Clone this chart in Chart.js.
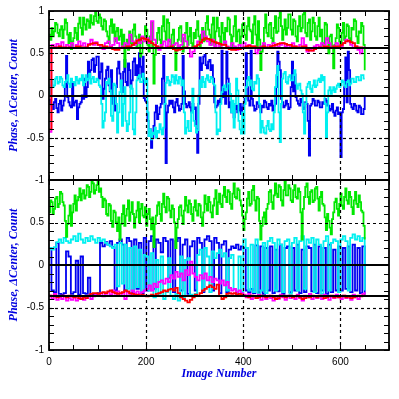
<!DOCTYPE html>
<html><head><meta charset="utf-8">
<script src="https://cdn.jsdelivr.net/npm/chart.js@4.4.1/dist/chart.umd.min.js"></script>
<style>html,body{margin:0;padding:0;background:#fff;width:399px;height:399px;overflow:hidden}
canvas{position:absolute;left:0;top:0}</style></head>
<body>
<canvas id="c1" width="399" height="399"></canvas>
<canvas id="c2" width="399" height="399"></canvas>
<script>
const imageNumbers = [0,5,10,15,20,25,30,35,40,45,50,55,60,65,70,75,80,85,90,95,100,105,110,115,120,125,130,135,140,145,150,155,160,165,170,175,180,185,190,195,200,205,210,215,220,225,230,235,240,245,250,255,260,265,270,275,280,285,290,295,300,305,310,315,320,325,330,335,340,345,350,355,360,365,370,375,380,385,390,395,400,405,410,415,420,425,430,435,440,445,450,455,460,465,470,475,480,485,490,495,500,505,510,515,520,525,530,535,540,545,550,555,560,565,570,575,580,585,590,595,600,605,610,615,620,625,630,635,640,645,650];

const imageNumbersFine = [0,2.5,5,7.5,10,12.5,15,17.5,20,22.5,25,27.5,30,32.5,35,37.5,40,42.5,45,47.5,
 50,52.5,55,57.5,60,62.5,65,67.5,70,72.5,75,77.5,80,82.5,85,87.5,90,92.5,95,97.5,
 100,102.5,105,107.5,110,112.5,115,117.5,120,122.5,125,127.5,130,132.5,135,137.5,140,142.5,145,147.5,
 150,152.5,155,157.5,160,162.5,165,167.5,170,172.5,175,177.5,180,182.5,185,187.5,190,192.5,195,197.5,
 200,202.5,205,207.5,210,212.5,215,217.5,220,222.5,225,227.5,230,232.5,235,237.5,240,242.5,245,247.5,
 250,252.5,255,257.5,260,262.5,265,267.5,270,272.5,275,277.5,280,282.5,285,287.5,290,292.5,295,297.5,
 300,302.5,305,307.5,310,312.5,315,317.5,320,322.5,325,327.5,330,332.5,335,337.5,340,342.5,345,347.5,
 350,352.5,355,357.5,360,362.5,365,367.5,370,372.5,375,377.5,380,382.5,385,387.5,390,392.5,395,397.5,
 400,402.5,405,407.5,410,412.5,415,417.5,420,422.5,425,427.5,430,432.5,435,437.5,440,442.5,445,447.5,
 450,452.5,455,457.5,460,462.5,465,467.5,470,472.5,475,477.5,480,482.5,485,487.5,490,492.5,495,497.5,
 500,502.5,505,507.5,510,512.5,515,517.5,520,522.5,525,527.5,530,532.5,535,537.5,540,542.5,545,547.5,
 550,552.5,555,557.5,560,562.5,565,567.5,570,572.5,575,577.5,580,582.5,585,587.5,590,592.5,595,597.5,
 600,602.5,605,607.5,610,612.5,615,617.5,620,622.5,625,627.5,630,632.5,635,637.5,640,642.5,645,647.5,650];

const topGreen = [0.72,0.66,0.80,0.70,0.76,0.86,0.84,0.74,0.70,0.78,0.82,0.68,0.78,0.90,0.86,0.72,0.62,0.74,0.55,0.64,
 0.68,0.80,0.74,0.66,0.85,0.92,0.80,0.72,0.92,0.84,0.78,0.90,0.88,0.80,0.95,0.86,0.84,0.94,1.00,0.88,
 0.86,0.96,0.92,0.82,0.78,0.90,0.88,0.76,0.70,0.62,0.82,0.90,0.74,0.84,0.64,0.76,0.80,0.66,0.70,0.78,
 0.58,0.72,0.34,0.60,0.66,0.54,0.76,0.62,0.60,0.78,0.84,0.70,0.56,0.66,0.72,0.46,0.50,0.64,0.68,0.82,
 0.78,0.60,0.52,0.70,0.86,0.58,0.14,0.48,0.62,0.74,0.80,0.66,0.56,0.82,0.94,0.76,0.66,0.90,0.86,0.64,
 0.60,0.72,0.78,0.56,0.30,0.54,0.66,0.80,0.82,0.64,0.52,0.68,0.74,0.86,0.60,0.70,0.80,0.62,0.56,0.74,
 0.68,0.78,0.88,0.70,0.58,0.72,0.80,0.64,0.66,0.86,0.94,0.78,0.72,0.60,0.84,0.92,0.60,0.76,0.92,0.80,
 0.70,0.58,0.86,0.74,0.62,0.80,0.76,0.92,0.90,0.72,0.58,0.70,0.82,0.94,0.64,0.76,0.78,0.62,0.70,0.84,
 0.86,0.72,0.66,0.82,0.92,0.78,0.76,0.62,0.84,0.94,0.72,0.56,0.88,0.66,0.30,0.52,0.58,0.80,0.96,0.74,
 0.70,0.84,0.86,0.68,0.62,0.80,0.94,0.74,0.76,0.92,0.98,0.82,0.66,0.78,0.90,0.72,0.80,0.96,0.96,0.78,
 0.72,0.90,0.88,0.70,0.64,0.82,0.94,0.76,0.80,0.96,0.98,0.74,0.70,0.86,0.90,0.66,0.76,0.92,0.86,0.70,
 0.66,0.82,0.92,0.70,0.78,0.60,0.62,0.86,0.84,0.66,0.50,0.70,0.72,0.58,0.32,0.60,0.68,0.84,0.80,0.64,
 0.58,0.74,0.86,0.66,0.70,0.84,0.82,0.68,0.64,0.80,0.78,0.90,0.88,0.70,0.62,0.76,0.74,0.86,0.82,0.60,0.30];

const topMagenta = [-0.43,0.60,0.57,0.61,0.58,0.63,0.56,0.60,0.58,0.62,
 0.56,0.60,0.64,0.59,0.62,0.57,0.61,0.66,0.60,0.63,
 0.60,0.57,0.55,0.62,0.64,0.58,0.60,0.68,0.62,0.56,
 0.58,0.62,0.60,0.72,0.64,0.60,0.66,0.62,0.70,0.64,
 0.68,0.62,0.88,0.66,0.58,0.54,0.60,0.64,0.58,0.66,
 0.56,0.60,0.62,0.58,0.60,0.72,0.64,0.56,0.46,0.52,
 0.58,0.64,0.62,0.76,0.70,0.64,0.60,0.66,0.58,0.62,
 0.56,0.60,0.64,0.58,0.56,0.62,0.58,0.54,0.60,0.56,
 0.62,0.58,0.60,0.56,0.58,0.50,0.54,0.58,0.62,0.56,
 0.60,0.58,0.62,0.56,0.58,0.60,0.62,0.58,0.60,0.58,
 0.62,0.58,0.56,0.60,0.68,0.60,0.52,0.54,0.53,0.58,
 0.60,0.58,0.62,0.60,0.68,0.62,0.56,0.58,0.62,0.58,
 0.58,0.62,0.66,0.64,0.60,0.56,0.58,0.54,0.50,0.56,0.58];

const topRed = [-0.40,0.57,0.57,0.57,0.58,0.57,0.57,0.56,0.57,0.56,
 0.56,0.58,0.58,0.57,0.57,0.57,0.60,0.61,0.62,0.62,
 0.60,0.60,0.58,0.58,0.57,0.57,0.55,0.54,0.54,0.56,
 0.57,0.57,0.58,0.58,0.60,0.62,0.65,0.66,0.68,0.67,
 0.66,0.64,0.62,0.60,0.58,0.57,0.57,0.56,0.56,0.57,
 0.58,0.55,0.53,0.54,0.55,0.56,0.57,0.56,0.56,0.57,
 0.58,0.60,0.63,0.66,0.68,0.67,0.66,0.64,0.63,0.62,
 0.61,0.60,0.60,0.57,0.55,0.54,0.54,0.55,0.55,0.56,
 0.57,0.58,0.59,0.58,0.58,0.57,0.56,0.57,0.58,0.57,
 0.57,0.58,0.59,0.60,0.61,0.62,0.62,0.61,0.60,0.60,
 0.58,0.58,0.57,0.57,0.58,0.58,0.54,0.53,0.53,0.55,
 0.56,0.57,0.57,0.58,0.58,0.57,0.57,0.58,0.58,0.58,
 0.60,0.62,0.64,0.65,0.63,0.62,0.58,0.57,0.57,0.56,0.56];

const topBlue = [-0.05,-0.10,-0.12,-0.16,-0.08,-0.04,-0.15,-0.20,-0.10,-0.06,-0.18,-0.12,-0.06,0.10,0.47,-0.02,-0.08,-0.12,-0.14,0.14,
 -0.12,-0.08,-0.06,-0.28,-0.14,-0.10,-0.08,0.00,-0.04,0.20,-0.02,0.10,0.40,0.22,0.30,0.42,0.44,0.28,0.36,0.46,
 0.46,0.20,0.28,0.38,-0.04,0.08,0.20,0.30,0.34,0.12,0.05,0.30,-0.10,-0.02,-0.18,0.10,0.32,0.40,0.26,0.10,
 0.04,0.28,0.42,0.16,0.12,0.38,0.30,0.10,0.18,0.40,0.44,0.24,0.36,0.20,0.50,0.34,0.22,0.46,-0.03,-0.06,
 -0.08,-0.30,-0.48,-0.40,-0.62,-0.50,-0.36,-0.20,-0.12,-0.28,-0.22,-0.14,-0.10,0.20,0.47,-0.10,-0.80,-0.20,-0.12,-0.06,
 -0.10,-0.06,-0.14,-0.20,-0.08,-0.04,-0.12,-0.18,-0.16,-0.10,0.47,0.05,-0.10,-0.14,-0.12,-0.08,-0.14,-0.20,-0.10,-0.16,
 -0.14,-0.40,-0.68,-0.10,0.45,0.30,0.38,0.46,0.48,0.36,0.32,0.40,0.42,0.30,0.36,0.20,-0.08,-0.14,-0.12,-0.06,
 -0.10,-0.04,0.53,-0.02,0.10,-0.10,0.52,0.20,-0.14,-0.08,-0.20,-0.12,-0.26,-0.16,-0.12,-0.20,-0.18,-0.10,-0.22,-0.14,
 -0.10,-0.04,0.50,0.10,-0.06,-0.12,0.53,-0.04,-0.12,-0.18,-0.16,-0.08,-0.10,-0.14,-0.20,-0.12,-0.14,-0.06,-0.08,-0.14,
 -0.16,-0.10,-0.12,-0.06,-0.18,-0.12,-0.10,0.10,0.52,0.40,0.30,-0.04,-0.08,-0.14,-0.12,-0.06,-0.10,-0.16,-0.14,0.10,
 0.40,0.05,0.25,-0.02,-0.06,-0.10,-0.12,-0.04,-0.08,-0.16,-0.14,-0.08,-0.10,-0.30,-0.71,-0.12,-0.10,-0.04,-0.06,-0.12,
 -0.12,-0.06,-0.08,-0.14,-0.14,-0.08,-0.10,-0.04,-0.06,-0.12,-0.12,-0.18,-0.16,-0.10,-0.20,-0.24,-0.18,-0.14,-0.22,-0.20,
 -0.73,-0.20,-0.16,0.10,0.45,-0.08,0.52,0.30,-0.10,-0.14,-0.16,-0.10,-0.12,-0.18,-0.20,-0.12,-0.14,-0.22,-0.22,-0.16,0.00];

const topCyan = [0.02,0.12,0.18,0.10,0.12,0.20,0.22,0.14,0.16,0.22,0.20,0.12,0.10,0.16,0.18,0.24,0.14,0.10,0.20,0.16,
 0.16,0.12,0.22,0.18,0.14,0.20,0.18,0.24,0.12,0.16,0.24,0.18,0.20,0.26,0.14,0.20,0.22,0.16,0.16,0.20,
 0.18,0.12,0.10,-0.10,-0.38,-0.30,-0.20,0.16,0.14,0.20,0.06,-0.24,-0.30,0.14,0.12,-0.10,-0.44,-0.20,0.04,0.18,
 -0.36,-0.10,0.10,-0.30,-0.42,-0.34,-0.20,0.12,0.08,-0.40,-0.46,-0.20,0.18,0.22,0.24,0.16,0.16,0.26,0.20,0.14,
 0.20,-0.20,-0.48,-0.40,-0.52,-0.44,-0.46,-0.38,-0.50,-0.42,-0.44,-0.34,-0.40,-0.46,-0.38,-0.10,0.15,0.22,0.18,0.12,
 0.16,0.24,0.22,0.14,0.24,0.18,0.14,0.22,0.20,0.12,0.18,-0.20,-0.45,-0.38,-0.30,-0.42,-0.42,-0.20,0.08,-0.30,
 -0.36,-0.44,-0.41,0.00,0.18,0.10,0.22,0.16,0.10,0.20,0.24,0.18,0.16,0.22,0.20,0.14,0.12,-0.20,-0.46,-0.40,
 -0.42,-0.10,0.04,0.10,0.12,0.06,0.08,0.14,0.14,0.02,-0.20,-0.06,-0.38,-0.10,0.20,0.06,-0.30,-0.40,-0.45,-0.20,
 -0.45,-0.10,0.10,0.18,0.22,0.12,0.18,0.08,0.06,0.16,0.14,0.24,0.20,-0.10,-0.44,-0.30,-0.38,-0.44,-0.45,-0.36,
 -0.30,-0.40,-0.42,-0.34,-0.40,-0.20,0.10,0.24,0.35,-0.20,-0.55,-0.10,0.20,0.26,0.28,0.16,0.14,0.22,0.24,0.18,
 0.18,0.24,0.30,0.14,0.08,0.12,0.14,0.06,0.02,-0.20,-0.45,-0.10,0.10,0.14,0.16,0.08,0.04,0.12,0.18,0.10,
 0.12,0.18,0.20,0.16,0.24,0.18,0.22,-0.10,-0.50,-0.20,0.06,0.10,0.02,0.06,0.10,0.04,0.08,0.12,0.14,0.10,
 0.12,0.18,0.16,0.12,0.10,0.16,0.18,0.12,0.14,0.20,0.20,0.16,0.16,0.22,0.22,0.18,0.18,0.24,0.24,0.20,0.20];

const botGreen = [0.62,0.76,0.74,0.60,0.66,0.78,0.80,0.68,0.72,0.86,0.84,0.74,0.70,0.52,0.33,0.48,0.58,0.70,0.46,0.62,
 0.72,0.82,0.64,0.76,0.80,0.90,0.76,0.84,0.88,0.78,0.82,0.94,0.92,0.80,0.86,0.98,0.96,0.84,0.88,0.94,
 0.98,0.86,0.90,0.80,0.68,0.78,0.76,0.60,0.58,0.72,0.70,0.52,0.45,0.64,0.62,0.50,0.40,0.56,0.30,0.48,
 0.60,0.70,0.46,0.58,0.66,0.76,0.52,0.62,0.74,0.60,0.44,0.56,0.64,0.74,0.50,0.66,0.72,0.58,0.56,0.68,
 0.46,0.60,0.66,0.54,0.42,0.56,0.21,0.48,0.58,0.70,0.74,0.60,0.52,0.72,0.84,0.68,0.62,0.80,0.78,0.64,
 0.56,0.70,0.66,0.50,0.20,0.44,0.54,0.68,0.70,0.58,0.48,0.64,0.80,0.70,0.62,0.76,0.72,0.60,0.52,0.68,
 0.76,0.64,0.58,0.72,0.70,0.56,0.46,0.62,0.82,0.72,0.64,0.80,0.74,0.62,0.56,0.70,0.78,0.88,0.60,0.74,
 0.84,0.72,0.68,0.82,0.92,0.80,0.74,0.88,0.86,0.72,0.66,0.84,0.96,0.80,0.78,0.90,0.88,0.76,0.70,0.58,
 0.41,0.54,0.62,0.78,0.86,0.70,0.72,0.88,0.93,0.76,0.64,0.80,0.78,0.52,0.30,0.46,0.56,0.62,0.48,0.66,
 0.72,0.86,0.88,0.74,0.66,0.82,0.96,0.84,0.80,0.94,0.92,0.76,0.70,0.88,0.98,0.82,0.82,0.94,0.90,0.76,
 0.74,0.88,0.94,0.80,0.78,0.90,0.86,0.62,0.30,0.66,0.80,0.92,0.96,0.80,0.72,0.86,0.88,0.74,0.76,0.90,
 0.92,0.78,0.64,0.80,0.86,0.72,0.70,0.56,0.41,0.60,0.52,0.44,0.36,0.54,0.62,0.74,0.78,0.66,0.58,0.72,
 0.84,0.70,0.66,0.80,0.90,0.76,0.72,0.86,0.80,0.68,0.60,0.76,0.86,0.72,0.68,0.82,0.74,0.64,0.62,0.46,0.30];

const botMagenta = [-0.36,-0.40,-0.34,-0.41,-0.38,-0.40,-0.36,-0.42,-0.39,-0.41,
 -0.38,-0.42,-0.40,-0.37,-0.41,-0.39,-0.36,-0.40,-0.37,-0.34,
 -0.36,-0.33,-0.37,-0.34,-0.32,-0.35,-0.30,-0.34,-0.31,-0.36,
 -0.33,-0.40,-0.32,-0.35,-0.30,-0.33,-0.31,-0.34,-0.32,-0.30,
 -0.28,-0.24,-0.30,-0.22,-0.26,-0.20,-0.18,-0.22,-0.16,-0.20,
 -0.12,-0.16,-0.08,-0.14,-0.10,-0.18,-0.06,-0.12,0.04,-0.10,
 -0.14,-0.18,-0.12,-0.16,-0.10,-0.18,-0.14,-0.20,-0.16,-0.18,
 -0.22,-0.18,-0.24,-0.20,-0.27,-0.30,-0.28,-0.32,-0.30,-0.33,
 -0.35,-0.38,-0.34,-0.40,-0.36,-0.39,-0.35,-0.41,-0.37,-0.40,
 -0.36,-0.39,-0.42,-0.37,-0.40,-0.35,-0.38,-0.41,-0.36,-0.39,
 -0.37,-0.40,-0.35,-0.39,-0.42,-0.36,-0.38,-0.34,-0.40,-0.37,
 -0.39,-0.36,-0.40,-0.35,-0.38,-0.41,-0.37,-0.39,-0.35,-0.38,
 -0.40,-0.36,-0.39,-0.37,-0.41,-0.35,-0.38,-0.40,-0.36,-0.34,-0.32];

const botRed = [-0.36,-0.37,-0.36,-0.38,-0.37,-0.36,-0.37,-0.38,-0.36,-0.37,
 -0.38,-0.37,-0.39,-0.40,-0.38,-0.39,-0.36,-0.34,-0.33,-0.33,
 -0.34,-0.33,-0.32,-0.33,-0.31,-0.30,-0.32,-0.33,-0.34,-0.33,
 -0.32,-0.30,-0.31,-0.33,-0.34,-0.35,-0.35,-0.36,-0.35,-0.36,
 -0.37,-0.36,-0.35,-0.36,-0.34,-0.33,-0.32,-0.30,-0.31,-0.29,
 -0.28,-0.30,-0.27,-0.33,-0.38,-0.40,-0.42,-0.44,-0.41,-0.38,
 -0.35,-0.36,-0.33,-0.30,-0.28,-0.26,-0.24,-0.26,-0.28,-0.23,
 -0.36,-0.40,-0.38,-0.34,-0.33,-0.34,-0.33,-0.35,-0.34,-0.35,
 -0.36,-0.37,-0.38,-0.36,-0.37,-0.39,-0.38,-0.36,-0.37,-0.38,
 -0.37,-0.36,-0.38,-0.40,-0.39,-0.37,-0.36,-0.38,-0.37,-0.36,
 -0.38,-0.37,-0.36,-0.38,-0.40,-0.39,-0.37,-0.38,-0.36,-0.37,
 -0.38,-0.36,-0.37,-0.39,-0.38,-0.37,-0.36,-0.38,-0.37,-0.38,
 -0.37,-0.36,-0.38,-0.37,-0.39,-0.38,-0.37,-0.36,-0.37,-0.36,-0.35];

const botBlue = [0.20,-0.30,-0.32,0.26,-0.34,-0.35,-0.33,0.16,0.10,-0.34,
 -0.32,0.05,-0.35,0.10,-0.33,-0.34,-0.15,-0.36,-0.34,-0.35,
 -0.33,0.26,0.22,0.27,0.24,0.28,0.21,-0.30,0.26,0.30,
 0.24,-0.30,0.32,0.28,-0.32,0.30,-0.28,0.26,-0.33,0.32,
 -0.30,0.28,0.34,-0.28,0.30,0.26,0.15,0.32,0.28,-0.15,
 0.30,-0.32,0.28,0.32,-0.30,0.24,0.30,-0.34,0.22,0.28,
 -0.30,0.32,0.26,-0.32,0.30,0.34,0.28,-0.30,0.32,0.26,
 -0.33,0.24,0.28,-0.32,0.18,0.22,0.20,0.24,0.18,0.22,
 0.20,-0.30,-0.32,-0.28,-0.33,0.23,-0.32,0.22,-0.34,0.20,
 -0.30,0.22,-0.33,0.18,-0.31,0.24,-0.34,0.20,0.22,-0.32,
 0.20,-0.30,0.24,-0.33,0.18,-0.32,0.22,0.20,-0.31,0.24,
 -0.33,0.22,-0.30,0.20,-0.34,0.24,-0.32,0.18,-0.30,0.22,
 -0.30,0.20,-0.28,0.22,-0.32,0.24,-0.30,0.20,-0.33,0.22,-0.35];

const botCyan = [0.20,0.18,0.21,0.27,0.30,0.26,0.32,0.28,0.26,0.30,
 0.34,0.28,0.37,0.30,0.26,0.32,0.28,0.34,0.30,0.26,
 0.32,0.28,0.30,0.26,0.24,0.22,0.20,0.24,-0.25,0.26,
 -0.22,0.24,-0.28,0.20,-0.30,0.22,-0.26,0.18,-0.32,0.12,
 0.10,-0.30,0.14,-0.38,0.06,-0.34,0.10,-0.40,-0.32,0.08,
 -0.36,-0.40,-0.34,-0.42,0.10,-0.38,0.06,0.08,-0.35,-0.36,
 -0.34,0.12,0.18,-0.30,0.20,0.10,-0.32,0.16,0.08,0.14,
 0.18,0.10,0.14,-0.30,0.08,0.12,-0.28,-0.34,0.10,-0.32,
 0.30,0.20,-0.30,0.24,-0.32,0.30,-0.34,-0.30,0.26,-0.33,
 0.28,0.32,0.26,-0.30,0.30,0.24,-0.32,0.28,0.30,-0.34,
 0.26,0.32,-0.30,0.28,0.34,-0.28,0.30,0.26,0.32,-0.32,
 0.30,0.24,-0.34,0.28,0.34,-0.30,0.26,0.30,0.28,-0.32,
 0.30,0.34,0.28,-0.30,0.32,0.36,0.30,0.34,0.28,0.32,-0.30];

const meanLevels = [0.565, -0.365];
const xMajorValues = [200, 400, 600];
const xMinorStep = 50;
const yDashedValues = [0.5, -0.5];
const yTickLabels = ['-1', '-0.5', '0', '0.5', '1'];

const C = {green:'#00e800', magenta:'#ff00ff', red:'#ff0000', blue:'#0000f0', cyan:'#00f0f0', axisTitle:'#0000e0'};

function ds(data, color, order) {
  return {data, borderColor: color, borderWidth: 1.8, pointRadius: 0, stepped: true, tension: 0, fill: false, order};
}
function pairs(xs, ys) { return xs.map((x, i) => ({x, y: ys[i]})); }

function makeDecor(panel) {
  return {
    id: 'decor' + panel,
    afterDatasetsDraw(chart) {
      const {ctx, chartArea: a, scales: {x, y}} = chart;
      ctx.save();
      ctx.strokeStyle = '#000';
      const hl = (py, w) => { ctx.lineWidth = w; ctx.beginPath(); ctx.moveTo(a.left, py); ctx.lineTo(a.right, py); ctx.stroke(); };
      const vl = (px, w) => { ctx.lineWidth = w; ctx.beginPath(); ctx.moveTo(px, a.top); ctx.lineTo(px, a.bottom); ctx.stroke(); };
      ctx.setLineDash([3, 3]);
      xMajorValues.forEach(v => vl(Math.round(x.getPixelForValue(v)) + 0.5, 1.2));
      yDashedValues.forEach(v => hl(Math.round(y.getPixelForValue(v)) + 0.5, 1.2));
      ctx.setLineDash([]);
      hl(Math.round(y.getPixelForValue(0)), 1.8);
      hl(Math.round(y.getPixelForValue(meanLevels[panel])), 1.8);
      ctx.lineWidth = 1;
      for (let v = -10; v <= 10; v++) {
        const py = Math.round(y.getPixelForValue(v / 10)) + 0.5;
        ctx.beginPath(); ctx.moveTo(a.left, py); ctx.lineTo(a.left + 5, py);
        ctx.moveTo(a.right, py); ctx.lineTo(a.right - 5, py); ctx.stroke();
      }
      for (let v = 0; v <= 700; v += xMinorStep) {
        const px = Math.round(x.getPixelForValue(v)) + 0.5;
        ctx.beginPath(); ctx.moveTo(px, a.top); ctx.lineTo(px, a.top + 5);
        ctx.moveTo(px, a.bottom); ctx.lineTo(px, a.bottom - 5); ctx.stroke();
      }
      ctx.lineWidth = 1.8;
      ctx.strokeRect(a.left, a.top, a.right - a.left, a.bottom - a.top);
      ctx.fillStyle = C.axisTitle;
      ctx.font = 'italic bold 12px "Liberation Serif"';
      ctx.textAlign = 'center'; ctx.textBaseline = 'middle';
      ctx.save();
      ctx.translate(14, (a.top + a.bottom) / 2);
      ctx.rotate(-Math.PI / 2);
      ctx.fillText('Phase, \u0394Center, Count', 0, 0);
      ctx.restore();
      if (panel === 1) {
        ctx.fillText('Image Number', (a.left + a.right) / 2, 374);
      }
      ctx.restore();
    }
  };
}

function makeChart(id, panel, sets) {
  const isBottom = panel === 1;
  return new Chart(document.getElementById(id), {
    type: 'line',
    data: {labels: imageNumbers, datasets: sets},
    options: {
      responsive: false, animation: false, devicePixelRatio: 1,
      layout: {padding: isBottom ? {left: 0, right: 10, top: 180, bottom: 0} : {left: 0, right: 10, top: 10, bottom: 219}},
      plugins: {legend: {display: false}, tooltip: {enabled: false}},
      scales: {
        x: {type: 'linear', min: 0, max: 700, display: isBottom,
            grid: {display: false, drawTicks: false}, border: {display: false},
            afterFit: s => { s.height = isBottom ? 49 : 0; },
            ticks: {stepSize: 200, includeBounds: false, autoSkip: false, padding: 6, color: '#000',
                    font: {family: '"Liberation Sans"', size: 10},
                    callback: v => (v % 200 === 0 && v <= 600) ? String(v) : ''}},
        y: {type: 'linear', min: -1, max: 1,
            grid: {display: false, drawTicks: false}, border: {display: false},
            afterFit: s => { s.width = 49; },
            ticks: {stepSize: 0.5, autoSkip: false, padding: 5, color: '#000',
                    font: {family: '"Liberation Sans"', size: 10},
                    callback: v => {
                      const idx = Math.round((v + 1) * 2);
                      if (isBottom && idx === 4) return '';
                      return yTickLabels[idx];
                    }}}
      }
    },
    plugins: [makeDecor(panel)]
  });
}

makeChart('c1', 0, [
  ds(topRed, C.red, 1), ds(topMagenta, C.magenta, 2), ds(pairs(imageNumbersFine, topGreen), C.green, 3),
  ds(pairs(imageNumbersFine, topCyan), C.cyan, 4), ds(pairs(imageNumbersFine, topBlue), C.blue, 5)
]);
makeChart('c2', 1, [
  ds(botRed, C.red, 1), ds(botMagenta, C.magenta, 2), ds(pairs(imageNumbersFine, botGreen), C.green, 3),
  ds(botCyan, C.cyan, 4), ds(botBlue, C.blue, 5)
]);
</script>
</body></html>
